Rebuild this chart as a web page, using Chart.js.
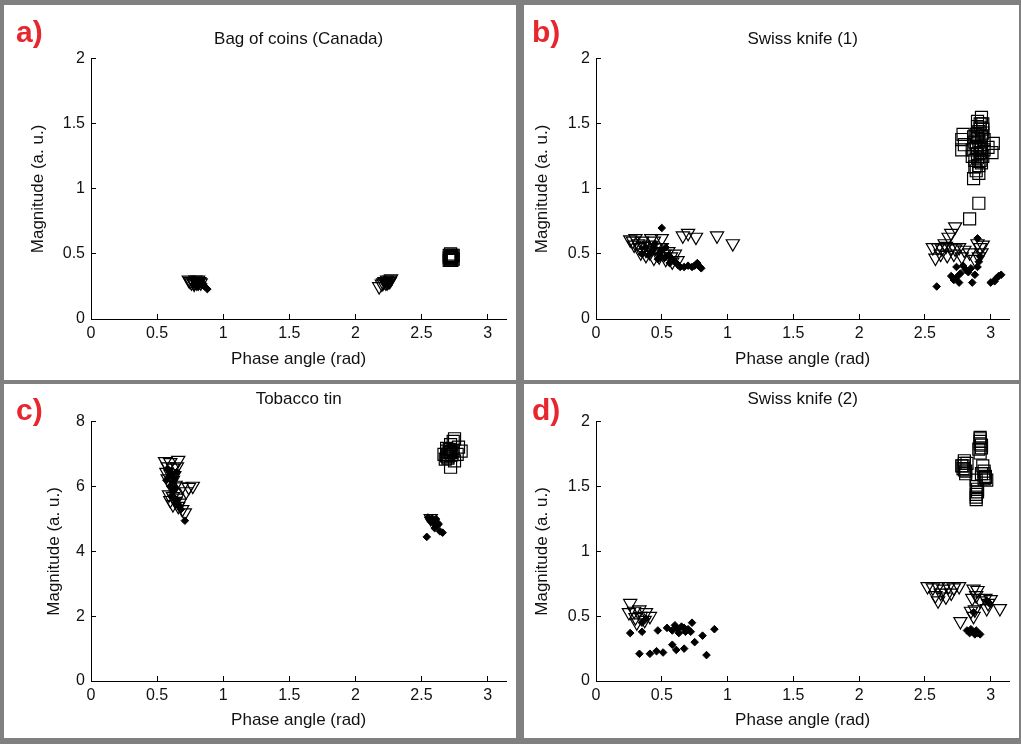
<!DOCTYPE html>
<html>
<head>
<meta charset="utf-8">
<script src="https://cdn.jsdelivr.net/npm/chart.js@4"></script>
<style>
  html, body { margin: 0; padding: 0; }
  body { width: 1021px; height: 744px; background: #808080; position: relative; overflow: hidden; }
  .panel { position: absolute; background: #fff; }
  .panel canvas { position: absolute; left: 0; top: 0; }
  .tag { position: absolute; font-family: 'Liberation Sans', Arial, sans-serif; font-weight: bold; font-size: 30px; line-height: 30px; color: #e8262d; }
</style>
</head>
<body>
<div class="panel" id="pa" style="left:4px;top:5px;width:512px;height:375px"><canvas id="ca" width="512" height="375"></canvas></div>
<div class="panel" id="pb" style="left:524px;top:5px;width:495px;height:375px"><canvas id="cb" width="495" height="375"></canvas></div>
<div class="panel" id="pc" style="left:4px;top:384px;width:512px;height:354px"><canvas id="cc" width="512" height="354"></canvas></div>
<div class="panel" id="pd" style="left:524px;top:384px;width:495px;height:354px"><canvas id="cd" width="495" height="354"></canvas></div>
<div class="tag" id="ta" style="left:16px;top:17px"></div>
<div class="tag" id="tb" style="left:532px;top:17px"></div>
<div class="tag" id="tc" style="left:16px;top:395px"></div>
<div class="tag" id="td" style="left:532px;top:395px"></div>
<script>
// ---------- data ----------
const panelLetters = ['a)', 'b)', 'c)', 'd)'];
const panelTitles = ['Bag of coins (Canada)', 'Swiss knife (1)', 'Tobacco tin', 'Swiss knife (2)'];
const xAxisTitle = 'Phase angle (rad)';
const yAxisTitle = 'Magnitude (a. u.)';
const xTicks = [0, 0.5, 1, 1.5, 2, 2.5, 3];
const xMax = Math.PI;
const yTicksSmall = [0, 0.5, 1, 1.5, 2];
const yTicksTin = [0, 2, 4, 6, 8];

// a) Bag of coins (Canada)
const coinsSquares = [[2.71,0.49],[2.72,0.47],[2.73,0.45],[2.72,0.50],[2.74,0.46],[2.71,0.45],[2.73,0.48],[2.72,0.46],[2.74,0.49],
  [2.71,0.47],[2.72,0.48],[2.73,0.47],[2.72,0.45],[2.73,0.49]];
const coinsTriangles = [[0.74,0.30],[0.77,0.29],[0.79,0.29],[0.80,0.28],[0.82,0.29],[0.78,0.28],[0.81,0.30],[0.76,0.28],
  [0.75,0.29],[0.79,0.30],[0.81,0.28],[0.83,0.28],[0.80,0.29],[0.78,0.27],
  [2.18,0.25],[2.20,0.27],[2.22,0.29],[2.24,0.30],[2.26,0.30],[2.23,0.28],[2.25,0.29],[2.27,0.31],[2.21,0.28],[2.24,0.28],[2.26,0.29]];
const coinsDiamonds = [[0.80,0.27],[0.82,0.28],[0.84,0.26],[0.86,0.25],[0.88,0.23],[0.79,0.26],[0.83,0.27],[0.81,0.25],
  [0.80,0.28],[0.85,0.27],[0.78,0.27],
  [2.22,0.28],[2.24,0.27],[2.25,0.26],[2.23,0.29],[2.26,0.28],[2.24,0.29]];

// b) Swiss knife (1)
const knife1Squares = [[2.93,1.55],[2.92,1.50],[2.90,1.48],[2.94,1.46],[2.91,1.44],[2.89,1.42],[2.93,1.40],[2.79,1.42],[2.78,1.38],
  [2.78,1.30],[2.80,1.34],[3.02,1.35],[3.01,1.28],[2.98,1.32],[2.88,1.36],[2.92,1.33],[2.86,1.30],[2.90,1.27],[2.94,1.25],
  [2.88,1.22],[2.91,1.18],[2.89,1.14],[2.87,1.08],[2.91,0.89],[2.84,0.77],[2.95,1.38],[2.86,1.25],[2.92,1.22],
  [2.90,1.52],[2.92,1.47],[2.94,1.43],[2.90,1.40],[2.91,1.36],[2.93,1.30],[2.89,1.32],[2.92,1.28],[2.90,1.24],[2.93,1.20],
  [2.88,1.17],[2.91,1.12],[2.94,1.50],[2.95,1.30],[2.87,1.40]];
const knife1Triangles = [[0.26,0.61],[0.28,0.60],[0.30,0.62],[0.29,0.57],[0.32,0.58],[0.33,0.55],[0.35,0.60],[0.36,0.56],[0.38,0.53],
  [0.40,0.57],[0.42,0.62],[0.44,0.60],[0.41,0.51],[0.45,0.55],[0.47,0.52],[0.48,0.48],[0.50,0.55],[0.52,0.50],[0.53,0.46],
  [0.55,0.52],[0.57,0.48],[0.58,0.44],[0.60,0.50],[0.62,0.45],[0.44,0.47],[0.38,0.49],[0.66,0.64],[0.70,0.66],[0.76,0.63],
  [0.92,0.64],[1.04,0.58],[0.50,0.62],[0.34,0.51],
  [2.73,0.71],[2.70,0.66],[2.68,0.63],[2.56,0.55],[2.60,0.55],[2.63,0.54],[2.66,0.56],[2.70,0.55],[2.73,0.54],[2.76,0.55],
  [2.80,0.53],[2.58,0.47],[2.62,0.50],[2.67,0.49],[2.72,0.50],[2.78,0.48],[2.84,0.51],[2.90,0.58],[2.92,0.55],[2.93,0.51],
  [2.91,0.48],[2.94,0.57],[2.88,0.46],[2.65,0.58]];
const knife1Diamonds = [[0.50,0.70],[0.38,0.55],[0.42,0.52],[0.45,0.58],[0.48,0.50],[0.50,0.53],[0.52,0.47],[0.55,0.49],[0.47,0.46],
  [0.40,0.49],[0.58,0.46],[0.60,0.44],[0.56,0.43],[0.62,0.42],[0.64,0.40],[0.67,0.40],[0.70,0.41],[0.73,0.40],[0.75,0.41],
  [0.77,0.43],[0.79,0.40],[0.80,0.39],[0.53,0.55],[0.44,0.54],[0.35,0.50],
  [2.59,0.25],[2.70,0.33],[2.72,0.30],[2.74,0.32],[2.76,0.28],[2.77,0.35],[2.74,0.40],[2.79,0.41],[2.81,0.38],[2.83,0.36],
  [2.85,0.39],[2.86,0.28],[2.88,0.34],[2.90,0.40],[2.91,0.44],[2.92,0.48],[2.90,0.62],[3.00,0.28],[3.04,0.31],[3.06,0.33],
  [3.08,0.34],[3.03,0.29]];

// c) Tobacco tin
const tinSquares = [[2.75,7.48],[2.74,7.40],[2.72,7.30],[2.78,7.22],[2.80,7.10],[2.69,7.18],[2.71,7.05],[2.67,7.00],[2.70,6.92],
  [2.73,6.98],[2.68,6.85],[2.75,6.80],[2.72,6.60],[2.77,7.00],[2.69,7.10],
  [2.70,7.00],[2.72,7.08],[2.69,6.95],[2.71,7.15],[2.73,7.05],[2.70,6.88],[2.74,7.12]];
const tinTriangles = [[0.56,6.78],[0.60,6.75],[0.66,6.82],[0.58,6.62],[0.62,6.58],[0.65,6.62],[0.57,6.45],[0.60,6.40],[0.63,6.35],
  [0.58,6.25],[0.62,6.20],[0.60,6.08],[0.64,6.05],[0.69,6.00],[0.74,5.98],[0.77,6.02],[0.72,5.85],[0.59,5.75],[0.62,5.70],
  [0.65,5.65],[0.60,5.58],[0.64,5.55],[0.67,5.50],[0.66,5.40],[0.69,5.30],[0.71,5.20],[0.62,5.45],[2.57,5.02]];
const tinDiamonds = [[0.58,6.55],[0.60,6.45],[0.61,6.35],[0.59,6.30],[0.63,6.25],[0.62,6.15],[0.60,6.00],[0.64,5.95],[0.62,5.85],
  [0.61,5.72],[0.63,5.65],[0.65,5.60],[0.64,5.50],[0.66,5.45],[0.67,5.38],[0.68,5.30],[0.71,4.95],[0.65,6.45],[0.57,6.20],
  [2.55,5.05],[2.58,5.02],[2.61,5.00],[2.57,4.92],[2.59,4.88],[2.62,4.80],[2.60,4.72],[2.64,4.62],[2.66,4.58],[2.54,4.45],
  [2.56,4.98],[2.63,4.85]];

// d) Swiss knife (2)
const knife2Squares = [[2.92,1.88],[2.92,1.85],[2.93,1.82],[2.91,1.79],[2.92,1.76],[2.80,1.70],[2.79,1.66],[2.80,1.63],[2.81,1.60],
  [2.94,1.66],[2.95,1.62],[2.96,1.58],[2.97,1.55],[2.93,1.60],[2.89,1.55],[2.89,1.50],[2.90,1.46],[2.89,1.42],[2.89,1.40],
  [2.78,1.66],[2.82,1.68],[2.95,1.56],
  [2.92,1.83],[2.93,1.80],[2.80,1.68],[2.79,1.64],[2.95,1.60],[2.96,1.57],[2.90,1.48],[2.89,1.44],[2.92,1.87],[2.81,1.62]];
const knife2Triangles = [[0.26,0.60],[0.25,0.53],[0.29,0.54],[0.33,0.55],[0.38,0.53],[0.30,0.49],[0.37,0.47],[0.34,0.50],[0.41,0.50],
  [0.31,0.45],
  [2.52,0.73],[2.56,0.72],[2.60,0.73],[2.64,0.71],[2.68,0.73],[2.72,0.72],[2.76,0.73],[2.58,0.66],[2.62,0.68],[2.66,0.65],
  [2.70,0.68],[2.60,0.62],[2.87,0.71],[2.90,0.70],[2.86,0.64],[2.89,0.66],[2.92,0.62],[2.96,0.64],[3.00,0.63],[2.97,0.56],
  [3.07,0.56],[2.85,0.54],[2.87,0.50],[2.88,0.55],[2.77,0.46],[2.98,0.60]];
const knife2Diamonds = [[0.26,0.37],[0.35,0.38],[0.33,0.21],[0.41,0.21],[0.46,0.23],[0.51,0.22],[0.47,0.39],[0.54,0.41],[0.58,0.39],
  [0.60,0.43],[0.62,0.40],[0.65,0.42],[0.67,0.41],[0.70,0.40],[0.73,0.45],[0.72,0.38],[0.75,0.30],[0.81,0.35],[0.90,0.40],
  [0.58,0.28],[0.61,0.24],[0.67,0.25],[0.84,0.20],[0.63,0.37],[0.68,0.38],[0.35,0.45],[0.38,0.48],
  [2.82,0.39],[2.84,0.37],[2.86,0.38],[2.88,0.36],[2.90,0.37],[2.92,0.36],[2.85,0.40],[2.89,0.39],[2.87,0.53],[2.97,0.62],[2.99,0.60]];

// ---------- drawing ----------
const FONT = "'Liberation Sans', Arial, Helvetica, sans-serif";
const TXT = '#111';

function pts(arr) { return arr.map(p => ({ x: p[0], y: p[1] })); }

function makePanel(canvasId, tagId, idx, sq, tri, dia, yTicks, geo) {
  document.getElementById(tagId).textContent = panelLetters[idx];
  const yMax = yTicks[yTicks.length - 1];
  new Chart(document.getElementById(canvasId), {
    type: 'scatter',
    data: {
      datasets: [
        { data: pts(sq), pointStyle: 'rect', pointRadius: 8.5, borderColor: '#000', borderWidth: 1.2, backgroundColor: 'rgba(0,0,0,0)' },
        { data: pts(tri), pointStyle: 'triangle', pointRotation: 180, pointRadius: 7.6, borderColor: '#000', borderWidth: 1.2, backgroundColor: 'rgba(0,0,0,0)' },
        { data: pts(dia), pointStyle: 'rectRot', pointRadius: 3.8, borderColor: '#000', borderWidth: 1, backgroundColor: '#000' }
      ]
    },
    options: {
      responsive: false,
      animation: false,
      events: [],
      layout: { padding: { left: 0, top: 0, right: geo.padRight, bottom: 0 } },
      plugins: {
        legend: { display: false },
        tooltip: { enabled: false },
        title: {
          display: true, text: panelTitles[idx], fullSize: false, color: TXT,
          font: { family: FONT, size: 17, weight: 'normal', lineHeight: 1.2 },
          padding: { top: geo.titleTop, bottom: geo.titleBottom }
        }
      },
      scales: {
        x: {
          type: 'linear', min: 0, max: xMax,
          afterBuildTicks: s => { s.ticks = xTicks.map(v => ({ value: v })); },
          afterFit: s => { s.height = geo.xHeight; },
          border: { display: true, color: '#000', width: 1 },
          grid: { drawOnChartArea: false, drawTicks: true, tickLength: -5, color: '#000', lineWidth: 1 },
          ticks: { autoSkip: false, maxRotation: 0, padding: 10, color: TXT, font: { family: FONT, size: 16 }, callback: v => String(v) },
          title: { display: true, text: xAxisTitle, color: TXT, font: { family: FONT, size: 17, lineHeight: 1.2 }, padding: { top: 0, bottom: geo.xTitleBottom } }
        },
        y: {
          type: 'linear', min: 0, max: yMax,
          afterBuildTicks: s => { s.ticks = yTicks.map(v => ({ value: v })); },
          afterFit: s => { s.width = geo.yWidth; },
          border: { display: true, color: '#000', width: 1 },
          grid: { drawOnChartArea: false, drawTicks: true, tickLength: -5, color: '#000', lineWidth: 1 },
          ticks: { autoSkip: false, padding: 11, color: TXT, font: { family: FONT, size: 16 }, callback: v => String(v) },
          title: { display: true, text: yAxisTitle, color: TXT, font: { family: FONT, size: 17, lineHeight: 1.2 }, padding: { top: geo.yTitleTop, bottom: 0 } }
        }
      }
    }
  });
}

const geoTopLeft = { padRight: 7, yWidth: 87, xHeight: 61, titleTop: 24.5, titleBottom: 9, xTitleBottom: 10.5, yTitleTop: 24 };
const geoTopRight = { padRight: 7, yWidth: 72, xHeight: 61, titleTop: 24.5, titleBottom: 9, xTitleBottom: 10.5, yTitleTop: 8.5 };
const geoBotLeft = { padRight: 7, yWidth: 87, xHeight: 57, titleTop: 5.5, titleBottom: 12, xTitleBottom: 7.5, yTitleTop: 40.5 };
const geoBotRight = { padRight: 7, yWidth: 72, xHeight: 57, titleTop: 5.5, titleBottom: 12, xTitleBottom: 7.5, yTitleTop: 8.5 };

makePanel('ca', 'ta', 0, coinsSquares, coinsTriangles, coinsDiamonds, yTicksSmall, geoTopLeft);
makePanel('cb', 'tb', 1, knife1Squares, knife1Triangles, knife1Diamonds, yTicksSmall, geoTopRight);
makePanel('cc', 'tc', 2, tinSquares, tinTriangles, tinDiamonds, yTicksTin, geoBotLeft);
makePanel('cd', 'td', 3, knife2Squares, knife2Triangles, knife2Diamonds, yTicksSmall, geoBotRight);
</script>
</body>
</html>
